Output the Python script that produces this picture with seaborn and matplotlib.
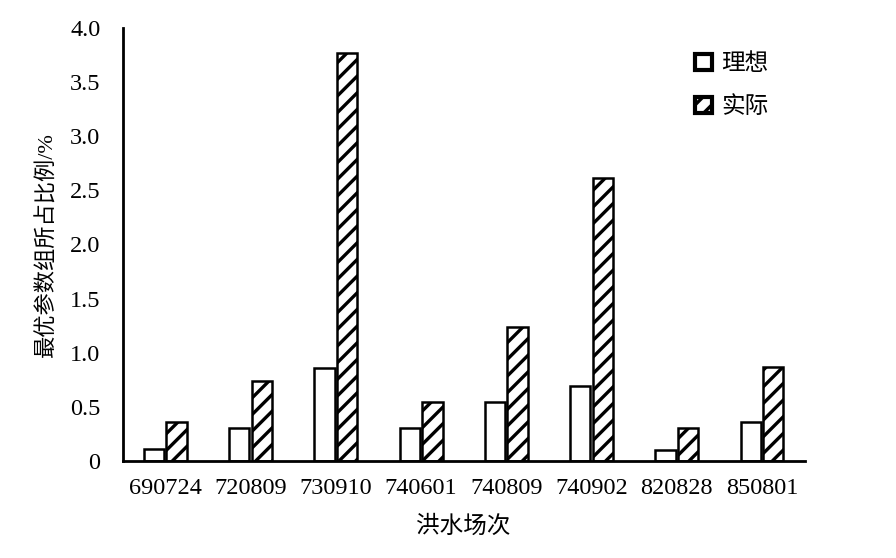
import pandas as pd
import matplotlib
matplotlib.use("Agg")
import matplotlib.pyplot as plt
import seaborn as sns

# data
floods = ["690724", "720809", "730910", "740601", "740809", "740902", "820828", "850801"]
ideal = [0.11, 0.30, 0.86, 0.30, 0.54, 0.69, 0.10, 0.36]
actual = [0.36, 0.74, 3.77, 0.54, 1.24, 2.61, 0.30, 0.87]
series = ["理想", "实际"]
yticks = [0, 0.5, 1.0, 1.5, 2.0, 2.5, 3.0, 3.5, 4.0]
ytick_labels = ["0", "0.5", "1.0", "1.5", "2.0", "2.5", "3.0", "3.5", "4.0"]

df = pd.DataFrame({
    "flood": floods * 2,
    "value": ideal + actual,
    "kind": [series[0]] * len(floods) + [series[1]] * len(floods),
})

sns.set_style("white")
plt.rcParams["font.family"] = ["Liberation Serif", "Noto Sans CJK SC"]
plt.rcParams["hatch.linewidth"] = 2.4
plt.rcParams["text.color"] = "black"
plt.rcParams["axes.labelcolor"] = "black"
plt.rcParams["xtick.color"] = "black"
plt.rcParams["ytick.color"] = "black"

fig = plt.figure(figsize=(8.96, 5.58), dpi=100)
ax = fig.add_axes([0.137, 0.174, 0.761, 0.776])

sns.barplot(data=df, x="flood", y="value", hue="kind", hue_order=series,
            palette=["white", "white"], width=0.53, gap=0.1,
            edgecolor="black", linewidth=1.8, ax=ax)

# hatch the "actual" bars
n = len(floods)
for i, p in enumerate(ax.patches[:2 * n]):
    if i >= n:
        p.set_hatch("//")

ax.set_ylim(0, 4.0)
ax.set_xlim(-0.5, n - 0.5)
ax.set_yticks(yticks)
ax.set_yticklabels(ytick_labels)
ax.tick_params(axis="y", direction="in", length=5, width=1.8, labelsize=17.5, pad=16)
ax.tick_params(axis="x", length=0, labelsize=17.5, pad=12)

for s in ["top", "right"]:
    ax.spines[s].set_visible(False)
for s in ["left", "bottom"]:
    ax.spines[s].set_linewidth(2)
    ax.spines[s].set_color("black")

ax.set_xlabel("洪水场次", fontsize=17, labelpad=12)
ax.set_ylabel("最优参数组所占比例/%", fontsize=16, labelpad=9)

handles, labels = ax.get_legend_handles_labels()
leg = ax.legend(handles, labels, loc="upper right", bbox_to_anchor=(0.978, 0.99),
                frameon=False, fontsize=17, handlelength=0.7, handleheight=0.7,
                handletextpad=0.4, labelspacing=0.9)
for h in leg.legend_handles:
    h.set_edgecolor("black")
    h.set_facecolor("white")
    h.set_linewidth(3)
leg.legend_handles[1].set_hatch("//")

fig.savefig("out.png", dpi=100)
